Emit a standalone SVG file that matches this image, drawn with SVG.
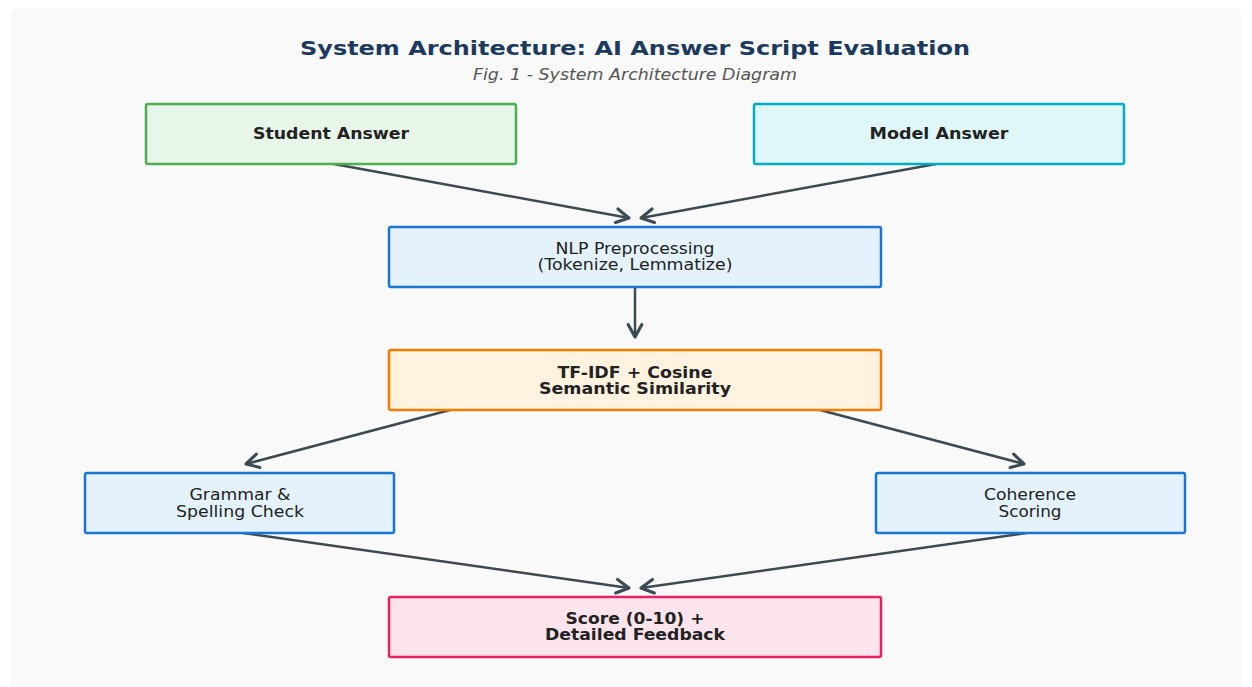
<svg xmlns="http://www.w3.org/2000/svg" width="1252" height="687" viewBox="0 0 1252 687">
<defs>
<style>
.t{font-family:"DejaVu Sans","Noto Sans",sans-serif;font-size:15px;fill:#222;text-anchor:middle}
.b{font-weight:bold}
.c line{stroke:#3c4a52;stroke-width:2.5;marker-end:url(#ah)}
rect.n{stroke-width:2.5}
</style>
<marker id="ah" markerUnits="userSpaceOnUse" markerWidth="20" markerHeight="20" viewBox="-12 -8 14 16" refX="0" refY="0" orient="auto">
<path d="M-10,-5.5 L0,0 L-10,5.5" fill="none" stroke="#3c4a52" stroke-width="2.5" stroke-linecap="round" stroke-linejoin="round"/>
</marker>
</defs>
<rect x="0" y="0" width="1252" height="687" fill="#ffffff"/>
<rect x="11" y="9" width="1230" height="678" fill="#f9f9f9"/>
<text x="635" y="55" class="t b" style="font-size:20px;fill:#1c3a5e" textLength="670" lengthAdjust="spacingAndGlyphs">System Architecture: AI Answer Script Evaluation</text>
<text x="635" y="80" class="t" style="font-style:italic;fill:#555" textLength="324" lengthAdjust="spacingAndGlyphs">Fig. 1 - System Architecture Diagram</text>
<g class="c" id="connectors">
<line x1="334" y1="164" x2="629" y2="218"/>
<line x1="936" y1="164" x2="641" y2="218"/>
<line x1="635" y1="288" x2="635" y2="337"/>
<line x1="450" y1="410" x2="246" y2="464"/>
<line x1="820" y1="410" x2="1024" y2="464"/>
<line x1="243" y1="533" x2="629" y2="588"/>
<line x1="1027" y1="533" x2="641" y2="588"/>
</g>
<g id="student">
<rect class="n" x="146" y="104" width="370" height="60" rx="2" fill="#e8f5e9" stroke="#4caf50"/>
<text x="331" y="139" class="t b" textLength="156" lengthAdjust="spacingAndGlyphs">Student Answer</text>
</g>
<g id="model">
<rect class="n" x="754" y="104" width="370" height="60" rx="2" fill="#e0f7fa" stroke="#00acc1"/>
<text x="939" y="139" class="t b" textLength="139" lengthAdjust="spacingAndGlyphs">Model Answer</text>
</g>
<g id="nlp">
<rect class="n" x="389" y="227" width="492" height="60" rx="2" fill="#e3f2fd" stroke="#1976d2"/>
<text x="635" y="254" class="t" textLength="159" lengthAdjust="spacingAndGlyphs">NLP Preprocessing</text>
<text x="635" y="270" class="t" textLength="195" lengthAdjust="spacingAndGlyphs">(Tokenize, Lemmatize)</text>
</g>
<g id="tfidf">
<rect class="n" x="389" y="350" width="492" height="60" rx="2" fill="#fff3e0" stroke="#f57c00"/>
<text x="635" y="378" class="t b" textLength="155" lengthAdjust="spacingAndGlyphs">TF-IDF + Cosine</text>
<text x="635" y="394" class="t b" textLength="192" lengthAdjust="spacingAndGlyphs">Semantic Similarity</text>
</g>
<g id="grammar">
<rect class="n" x="85" y="473" width="309" height="60" rx="2" fill="#e3f2fd" stroke="#1976d2"/>
<text x="240" y="500" class="t" textLength="101" lengthAdjust="spacingAndGlyphs">Grammar &amp;</text>
<text x="240" y="517" class="t" textLength="128" lengthAdjust="spacingAndGlyphs">Spelling Check</text>
</g>
<g id="coherence">
<rect class="n" x="876" y="473" width="309" height="60" rx="2" fill="#e3f2fd" stroke="#1976d2"/>
<text x="1030" y="500" class="t" textLength="92" lengthAdjust="spacingAndGlyphs">Coherence</text>
<text x="1030" y="517" class="t" textLength="63" lengthAdjust="spacingAndGlyphs">Scoring</text>
</g>
<g id="score">
<rect class="n" x="389" y="597" width="492" height="60" rx="2" fill="#fce4ec" stroke="#e91e63"/>
<text x="635" y="624" class="t b" textLength="139" lengthAdjust="spacingAndGlyphs">Score (0-10) +</text>
<text x="635" y="640" class="t b" textLength="180" lengthAdjust="spacingAndGlyphs">Detailed Feedback</text>
</g>
</svg>
